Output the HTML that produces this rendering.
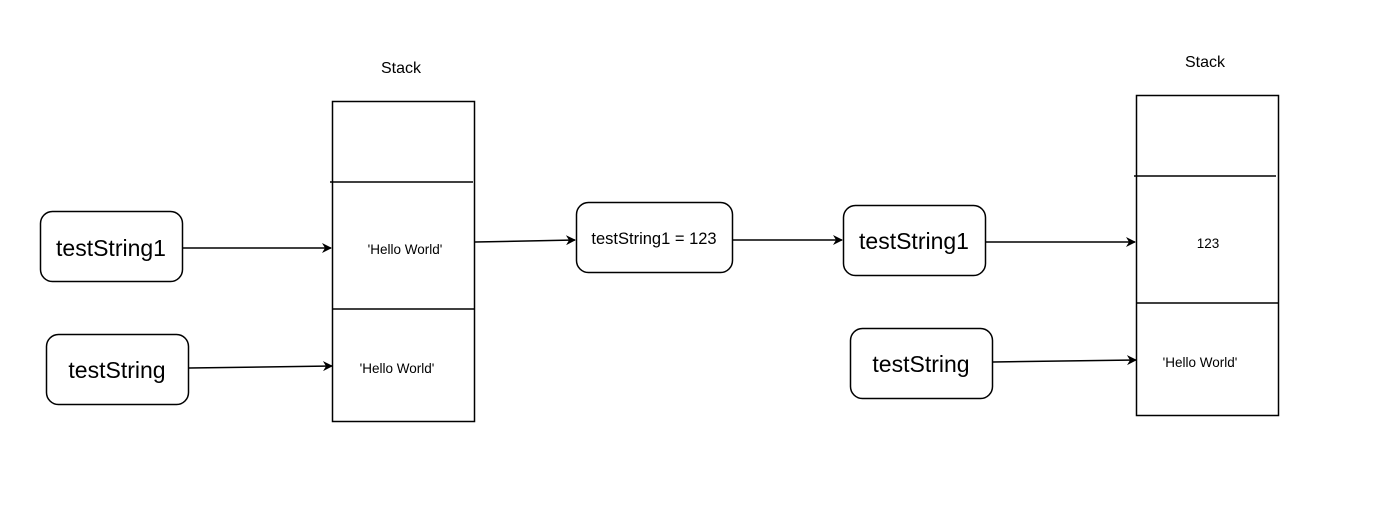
<!DOCTYPE html>
<html><head><meta charset="utf-8"><style>
html,body{margin:0;padding:0;background:#fff;}
svg{display:block;}
text{font-family:"Liberation Sans",Arial,sans-serif;fill:#000;}
</style></head><body>
<svg width="1400" height="523" viewBox="0 0 1400 523" xmlns="http://www.w3.org/2000/svg">
<defs>
<marker id="a" markerWidth="10" markerHeight="10" refX="9" refY="5" orient="auto" markerUnits="userSpaceOnUse">
<path d="M0,0 L10,5 L0,10 L3,5 Z" fill="#000"/>
</marker>
</defs>
<g fill="none" stroke="#000" stroke-width="1.5">
<rect x="332.5" y="101.5" width="142" height="320"/>
<line x1="330" y1="182" x2="473" y2="182"/>
<line x1="332" y1="309" x2="475" y2="309"/>
<rect x="1136.5" y="95.5" width="142" height="320"/>
<line x1="1134" y1="176" x2="1276" y2="176"/>
<line x1="1136" y1="303" x2="1279" y2="303"/>
<rect x="40.5" y="211.5" width="142" height="70" rx="12"/>
<rect x="46.5" y="334.5" width="142" height="70" rx="12"/>
<rect x="576.5" y="202.5" width="156" height="70" rx="12"/>
<rect x="843.5" y="205.5" width="142" height="70" rx="12"/>
<rect x="850.5" y="328.5" width="142" height="70" rx="12"/>
<line x1="183" y1="248" x2="331" y2="248" marker-end="url(#a)"/>
<line x1="189" y1="368" x2="332" y2="366" marker-end="url(#a)"/>
<line x1="475" y1="242" x2="575" y2="240" marker-end="url(#a)"/>
<line x1="733" y1="240" x2="842" y2="240" marker-end="url(#a)"/>
<line x1="986" y1="242" x2="1135" y2="242" marker-end="url(#a)"/>
<line x1="993" y1="362" x2="1136" y2="360" marker-end="url(#a)"/>
</g>
<text x="401" y="73" font-size="16" text-anchor="middle">Stack</text>
<text x="1205" y="67" font-size="16" text-anchor="middle">Stack</text>
<text x="111" y="256" font-size="23" text-anchor="middle">testString1</text>
<text x="117" y="378" font-size="23" text-anchor="middle">testString</text>
<text x="914" y="249" font-size="23" text-anchor="middle">testString1</text>
<text x="921" y="372" font-size="23" text-anchor="middle">testString</text>
<text x="654" y="244" font-size="16.5" text-anchor="middle">testString1 = 123</text>
<text x="405" y="254" font-size="13.5" text-anchor="middle">'Hello World'</text>
<text x="397" y="373" font-size="13.5" text-anchor="middle">'Hello World'</text>
<text x="1208" y="248" font-size="13.5" text-anchor="middle">123</text>
<text x="1200" y="367" font-size="13.5" text-anchor="middle">'Hello World'</text>
</svg>
</body></html>
